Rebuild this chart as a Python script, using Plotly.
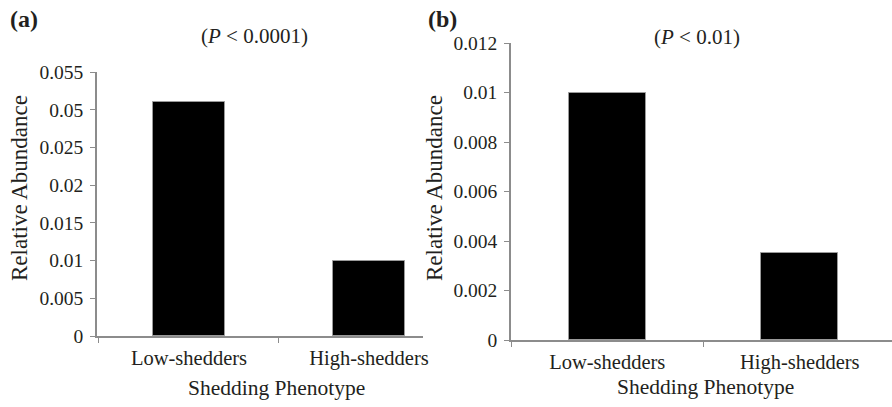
import plotly.graph_objects as go

# Data
categories = ["Low-shedders", "High-shedders"]
values_a = [0.031, 0.0099]
values_b = [0.0100, 0.0035]
ytick_vals_a = [0, 0.005, 0.01, 0.015, 0.02, 0.025, 0.03, 0.035]
ytick_text_a = ["0", "0.005", "0.01", "0.015", "0.02", "0.025", "0.05", "0.055"]
ytick_vals_b = [0, 0.002, 0.004, 0.006, 0.008, 0.01, 0.012]
ytick_text_b = ["0", "0.002", "0.004", "0.006", "0.008", "0.01", "0.012"]

W, H = 892, 407
FONT = "Liberation Serif"
TXT = "#231f20"
AX = "#8c8c8c"

def px(x):
    return x / W

def py(y):
    return (H - y) / H

fig = go.Figure()
fig.add_trace(go.Bar(x=categories, y=values_a, width=0.4, xaxis="x", yaxis="y",
                     marker=dict(color="black", line=dict(color="#9a9a9a", width=1)),
                     showlegend=False))
fig.add_trace(go.Bar(x=categories, y=values_b, width=0.4, xaxis="x2", yaxis="y2",
                     marker=dict(color="black", line=dict(color="#9a9a9a", width=1)),
                     showlegend=False))

common_x = dict(type="category", tickson="boundaries", ticks="outside", ticklen=5,
                tickcolor=AX, showline=True, linecolor=AX, linewidth=1.5,
                showgrid=False, zeroline=False, automargin=False,
                tickfont=dict(family=FONT, size=20.5, color=TXT), ticklabelstandoff=3)
common_y = dict(ticks="outside", ticklen=5, tickcolor=AX, showline=True, linecolor=AX,
                linewidth=1.5, showgrid=False, zeroline=False, automargin=False,
                tickfont=dict(family=FONT, size=19.5, color=TXT), ticklabelstandoff=3)

fig.update_layout(
    template="none",
    width=W, height=H, margin=dict(l=0, r=0, t=0, b=0, pad=0),
    paper_bgcolor="white", plot_bgcolor="white",
    bargap=0, showlegend=False,
    xaxis=dict(domain=[px(97), px(423)], range=[-0.511, 1.3], anchor="y", **common_x),
    yaxis=dict(domain=[py(336), py(72)], range=[0, 0.035], anchor="x",
               tickvals=ytick_vals_a, ticktext=ytick_text_a, **common_y),
    xaxis2=dict(domain=[px(511), 1.0], range=[-0.5, 1.479], anchor="y2", **common_x),
    yaxis2=dict(domain=[py(340), py(43)], range=[0, 0.012], anchor="x2",
                tickvals=ytick_vals_b, ticktext=ytick_text_b, **common_y),
)

def ann(text, x, y, size, angle=0, **kw):
    fig.add_annotation(text=text, x=px(x), y=py(y), xref="paper", yref="paper",
                       showarrow=False, textangle=angle, xanchor="center", yanchor="middle",
                       font=dict(family=FONT, size=size, color=TXT), **kw)

ann("<b>(a)</b>", 24, 19, 24)
ann("<b>(b)</b>", 442, 19, 24)
ann("(<i>P</i> < 0.0001)", 254, 36, 21)
ann("(<i>P</i> < 0.01)", 697, 37, 21)
ann("Shedding Phenotype", 276, 388, 21.5)
ann("Shedding Phenotype", 705, 387, 21.5)
ann("Relative Abundance", 19, 188, 23, angle=-90)
ann("Relative Abundance", 434, 188, 23, angle=-90)

fig.write_html("out.html")
